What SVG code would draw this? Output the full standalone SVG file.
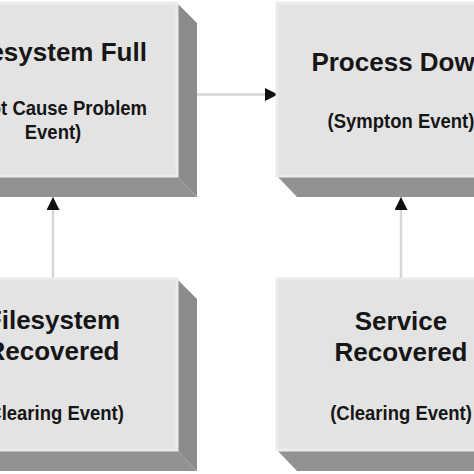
<svg xmlns="http://www.w3.org/2000/svg" width="474" height="474" viewBox="0 0 474 474">
<defs>
<style>
.face{fill:#e3e3e3;stroke:#ebebeb;stroke-width:3}
.side{fill:#8b8b8b}
.bottom{fill:#929292}
.t{font-family:"Liberation Sans",Arial,sans-serif;font-weight:bold;fill:#161616;text-anchor:middle}
.h{font-size:26px}
.s{font-size:18.5px}
.conn{stroke:#d6d6d6;stroke-width:2.5;fill:none}
</style>
<marker id="arr" markerUnits="userSpaceOnUse" markerWidth="14" markerHeight="14" refX="13" refY="6.5" orient="auto">
<path d="M0,0 L13,6.5 L0,13 Z" fill="#111"/>
</marker>
</defs>
<rect width="474" height="474" fill="#ffffff"/>

<g id="connectors">
<line class="conn" x1="197" y1="94.5" x2="278" y2="94.5" marker-end="url(#arr)"/>
<line class="conn" x1="53" y1="279" x2="53" y2="197" marker-end="url(#arr)"/>
<line class="conn" x1="401" y1="279" x2="401" y2="197" marker-end="url(#arr)"/>
</g>

<g id="filesystem-full">
<polygon class="side" points="177,3 197,23 197,197 177,176"/>
<polygon class="bottom" points="-71,176 177,176 197,197 -51,197"/>
<rect class="face" x="-71" y="3" width="248" height="173"/>
<text class="t h" x="53" y="61">Filesystem Full</text>
<text class="t s" transform="translate(53,115) scale(1,1.12)">(Root Cause Problem</text>
<text class="t s" transform="translate(53,139) scale(1,1.12)">Event)</text>
</g>

<g id="process-down">
<polygon class="bottom" points="277,176 525,176 545,197 297,197"/>
<rect class="face" x="277" y="3" width="248" height="173"/>
<text class="t h" x="401" y="71">Process Down</text>
<text class="t s" transform="translate(401,128) scale(1,1.12)">(Sympton Event)</text>
</g>

<g id="filesystem-recovered">
<polygon class="side" points="177,279 197,299 197,471 177,450"/>
<polygon class="bottom" points="-71,450 177,450 197,471 -51,471"/>
<rect class="face" x="-71" y="279" width="248" height="171"/>
<text class="t h" x="53" y="329">Filesystem</text>
<text class="t h" x="53" y="360">Recovered</text>
<text class="t s" transform="translate(53,420) scale(1,1.12)">(Clearing Event)</text>
</g>

<g id="service-recovered">
<polygon class="bottom" points="277,450 525,450 545,471 297,471"/>
<rect class="face" x="277" y="279" width="248" height="171"/>
<text class="t h" x="401" y="330">Service</text>
<text class="t h" x="401" y="361">Recovered</text>
<text class="t s" transform="translate(401,420) scale(1,1.12)">(Clearing Event)</text>
</g>
</svg>
